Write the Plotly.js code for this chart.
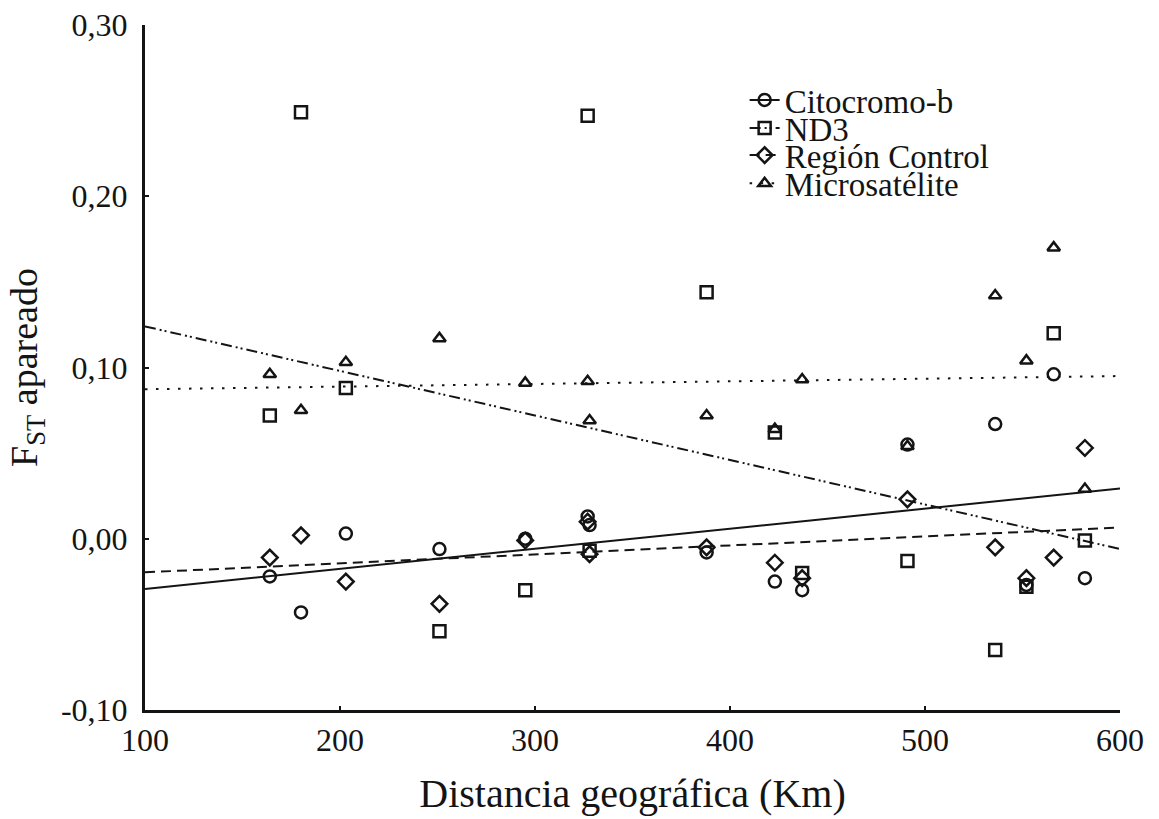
<!DOCTYPE html>
<html>
<head>
<meta charset="utf-8">
<script src="https://cdn.plot.ly/plotly-3.0.1.min.js"></script>
<style>html,body{margin:0;padding:0;background:#fff;}#chart{width:1159px;height:819px;}</style>
</head>
<body>
<div id="chart"></div>
<script>
// Geographic distance (km) of each population pair
const distancia = [164, 180, 203, 251, 295, 327, 328, 388, 423, 437, 491, 536, 552, 566, 582];
// Pairwise FST per marker
const citocromoB   = [-0.022, -0.043, 0.003, -0.006, 0.000, 0.013, 0.008, -0.008, -0.025, -0.030, 0.055, 0.067, -0.027, 0.096, -0.023];
const nd3          = [0.072, 0.249, 0.088, -0.054, -0.030, 0.247, -0.007, 0.144, 0.062, -0.020, -0.013, -0.065, -0.028, 0.120, -0.001];
const regionControl= [-0.011, 0.002, -0.025, -0.038, -0.001, 0.010, -0.009, -0.005, -0.014, -0.023, 0.023, -0.005, -0.023, -0.011, 0.053];
const microsatelite= [0.096, 0.075, 0.103, 0.117, 0.091, 0.092, 0.069, 0.072, 0.064, 0.093, 0.054, 0.142, 0.104, 0.170, 0.029];
// Regression lines (values read at x = 100 and x = 600)
const trendX      = [100, 600];
const citTrend    = [-0.0293, 0.0293];
const nd3Trend    = [0.124, -0.006];
const rcTrend     = [-0.0196, 0.0066];
const microTrend  = [0.0873, 0.095];
// Names and tick labels
const seriesNames = ['Citocromo-b', 'ND3', 'Región Control', 'Microsatélite'];
const xTickVals = [100, 200, 300, 400, 500, 600];
const xTickText = ['100', '200', '300', '400', '500', '600'];
const yTickVals = [-0.10, 0.00, 0.10, 0.20, 0.30];
const yTickText = ['-0,10', '0,00', '0,10', '0,20', '0,30'];

const FONT = 'Liberation Serif, Times New Roman, serif';
const INK = '#141414';

// isolate each point so the 'lines' part draws nothing but the legend shows the line style
function isolate(arr) {
  const out = [];
  arr.forEach((v, i) => { if (i) out.push(null); out.push(v); });
  return out;
}

const seriesVals = [citocromoB, nd3, regionControl, microsatelite];
const trends = [citTrend, nd3Trend, rcTrend, microTrend];
const symbols = ['circle-open', 'square-open', 'diamond-open', 'triangle-up-open'];
const sizes = [12, 12, 12, 11];
const dashes = ['solid', '11px,4px,2px,3px,2px,4px', '10px,6px', '2.5px,8.5px'];
const legendIds = ['legend', 'legend2', 'legend3', 'legend4'];

const traces = [];
trends.forEach((t, i) => {
  traces.push({
    x: trendX, y: t, type: 'scatter', mode: 'lines',
    line: {color: INK, width: 2, dash: dashes[i]},
    showlegend: false, hoverinfo: 'skip'
  });
});
seriesVals.forEach((vals, i) => {
  traces.push({
    x: isolate(distancia), y: isolate(vals), type: 'scatter', mode: 'lines+markers',
    connectgaps: false,
    name: seriesNames[i],
    legend: legendIds[i],
    line: {color: INK, width: 2, dash: dashes[i]},
    marker: {symbol: symbols[i], size: sizes[i], color: INK, line: {width: 2.5, color: INK}},
    cliponaxis: false
  });
});

const legendYs = [0.8905, 0.8496, 0.810, 0.769];
function legendCfg(y) {
  return {x: 0.615, y: y, xanchor: 'left', yanchor: 'middle', bgcolor: 'rgba(0,0,0,0)',
          font: {family: FONT, size: 33, color: INK}, itemwidth: 30, borderwidth: 0};
}

const layout = {
  width: 1159, height: 819,
  margin: {l: 145, r: 39, t: 25, b: 109, pad: 0},
  paper_bgcolor: '#fff', plot_bgcolor: '#fff',
  separators: ', ',
  showlegend: true,
  legend: legendCfg(legendYs[0]),
  legend2: legendCfg(legendYs[1]),
  legend3: legendCfg(legendYs[2]),
  legend4: legendCfg(legendYs[3]),
  xaxis: {
    range: [100, 600], showgrid: false, zeroline: false,
    showline: true, linecolor: INK, linewidth: 3,
    ticks: 'inside', ticklen: 4, tickwidth: 2, tickcolor: INK,
    tickvals: xTickVals, ticktext: xTickText,
    tickfont: {family: FONT, size: 32, color: INK},
    title: {text: 'Distancia geográfica (Km)', font: {family: FONT, size: 40, color: INK}, standoff: 22}
  },
  yaxis: {
    range: [-0.10, 0.30], showgrid: false, zeroline: false,
    showline: true, linecolor: INK, linewidth: 3,
    ticks: 'inside', ticklen: 4, tickwidth: 2, tickcolor: INK,
    tickvals: yTickVals, ticktext: yTickText, ticklabelstandoff: 8,
    tickfont: {family: FONT, size: 32, color: INK},
    title: {text: 'F<sub>ST</sub> apareado', font: {family: FONT, size: 38, color: INK}, standoff: 12}
  }
};

Plotly.newPlot('chart', traces, layout, {staticPlot: true, displayModeBar: false});
</script>
</body>
</html>
